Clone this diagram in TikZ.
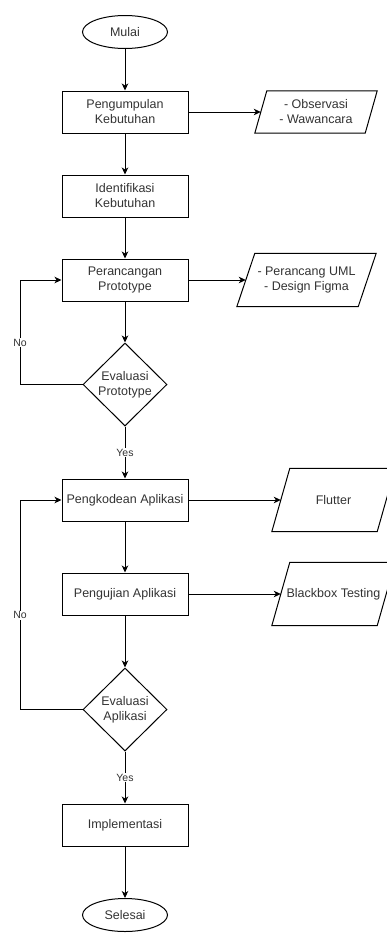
\documentclass[tikz,border=0pt]{standalone}
\usepackage{fontspec}
\setmainfont{Liberation Sans}
\usetikzlibrary{shapes.geometric,arrows.meta}
\begin{document}
\begin{tikzpicture}[x=1pt,y=-1pt,
  every node/.style={font=\fontsize{12.5}{15}\selectfont, text=black!80},
  proc/.style={draw=black, line width=1pt, minimum width=126pt, minimum height=42pt, inner sep=0pt, align=center},
  term/.style={draw=black, ellipse, line width=1pt, minimum width=85pt, minimum height=33pt, inner sep=0pt},
  iobody/.style={rectangle, inner sep=0pt, align=center},
  dec/.style={draw=black, diamond, line width=1pt, minimum width=84pt, minimum height=83pt, inner sep=0pt},
  dectext/.style={align=center, inner sep=0pt},
  arr/.style={draw=black, line width=1pt, -{Stealth[length=7pt,width=6.5pt,inset=2pt]}},
  para/.style={draw=black, line width=1pt, line join=miter},
  lbl/.style={font=\fontsize{10.5}{12}\selectfont, fill=white, inner sep=1pt}
]
\useasboundingbox (0,0) rectangle (386,935);

\node[term] (mulai) at (125,32) {Mulai};
\node[proc] (peng) at (125,112) {Pengumpulan\\Kebutuhan};
\node[iobody, minimum width=110pt, minimum height=42pt] (obs) at (316,112) {- Observasi\\- Wawancara};
\draw[para] ([xshift=6pt]obs.north west) -- ([xshift=6pt]obs.north east) -- ([xshift=-6pt]obs.south east) -- ([xshift=-6pt]obs.south west) -- cycle;
\node[proc] (ident) at (125,196) {Identifikasi\\Kebutuhan};
\node[proc] (peran) at (125,280) {Perancangan\\Prototype};
\node[iobody, minimum width=121pt, minimum height=53pt] (uml) at (306.5,280) {- Perancang UML\\- Design Figma};
\draw[para] ([xshift=9pt]uml.north west) -- ([xshift=9pt]uml.north east) -- ([xshift=-9pt]uml.south east) -- ([xshift=-9pt]uml.south west) -- cycle;
\node[dec] (evp) at (125,384.5) {};
\node[dectext] (evpt) at (evp) {Evaluasi\\Prototype};
\node[proc] (kode) at (125,500) {Pengkodean Aplikasi};
\node[iobody, minimum width=105pt, minimum height=63pt] (flut) at (333.5,500) {Flutter};
\draw[para] ([xshift=9pt]flut.north west) -- ([xshift=9pt]flut.north east) -- ([xshift=-9pt]flut.south east) -- ([xshift=-9pt]flut.south west) -- cycle;
\node[proc] (uji) at (125,594) {Pengujian Aplikasi};
\node[iobody, minimum width=105pt, minimum height=63pt] (bb) at (333.5,594) {Blackbox Testing};
\draw[para] ([xshift=9pt]bb.north west) -- ([xshift=9pt]bb.north east) -- ([xshift=-9pt]bb.south east) -- ([xshift=-9pt]bb.south west) -- cycle;
\node[dec] (eva) at (125,709.5) {};
\node[dectext] (evat) at (eva) {Evaluasi\\Aplikasi};
\node[proc] (impl) at (125,825) {Implementasi};
\node[term] (sel) at (125,915) {Selesai};

\coordinate (n1a) at (20,384.5);
\coordinate (n1b) at (20,280);
\coordinate (n2a) at (20,709.5);
\coordinate (n2b) at (20,500);

\draw[arr] (mulai) -- (peng);
\draw[arr] (peng.east) -- (obs.west);
\draw[arr] (peng) -- (ident);
\draw[arr] (ident) -- (peran);
\draw[arr] (peran.east) -- (uml.west);
\draw[arr] (peran) -- (evp);
\draw[arr] (evp.south) -- node[lbl]{Yes} (kode.north);
\draw[arr] (evp.west) -- (n1a) -- node[lbl,pos=0.4]{No} (n1b) -- (peran.west);
\draw[arr] (kode.east) -- (flut.west);
\draw[arr] (kode) -- (uji);
\draw[arr] (uji.east) -- (bb.west);
\draw[arr] (uji) -- (eva);
\draw[arr] (eva.west) -- (n2a) -- node[lbl,pos=0.45]{No} (n2b) -- (kode.west);
\draw[arr] (eva.south) -- node[lbl]{Yes} (impl.north);
\draw[arr] (impl) -- (sel);
\end{tikzpicture}
\end{document}
